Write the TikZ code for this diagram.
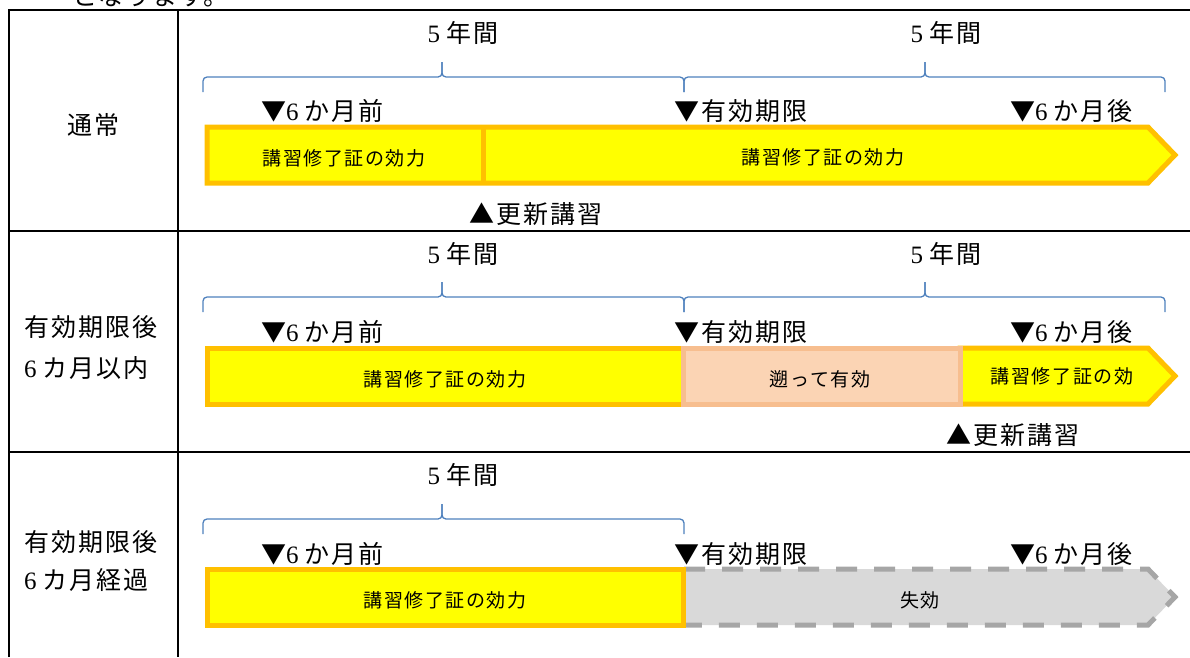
\documentclass[tikz,border=0pt]{standalone}
\usepackage{fontspec}
\setmainfont{Liberation Serif}
\newfontfamily\jp[LetterSpace=8]{Noto Sans CJK JP}
\definecolor{barorange}{HTML}{FFC000}
\definecolor{baryellow}{HTML}{FFFF00}
\definecolor{peachfill}{HTML}{FBD4B4}
\definecolor{peachline}{HTML}{F7BE8F}
\definecolor{greyfill}{HTML}{D9D9D9}
\definecolor{greyline}{HTML}{A6A6A6}
\definecolor{braceblue}{HTML}{4F81BD}
\tikzset{
  lbl/.style={font=\fontsize{25}{29}\selectfont, inner sep=0pt},
  bartxt/.style={font=\jp\fontsize{19}{22}\selectfont, inner sep=0pt},
  gridline/.style={line width=2pt, black},
  bracket/.style={draw=braceblue, line width=1.3pt, rounded corners=4pt},
  ybar/.style={fill=baryellow, draw=barorange, line width=5pt},
  pbar/.style={fill=peachfill, draw=peachline, line width=5pt},
  gbar/.style={fill=greyfill, draw=greyline, line width=5pt, dash pattern=on 21pt off 17pt},
}
\begin{document}
\begin{tikzpicture}[x=1pt,y=-1pt]
\useasboundingbox (0,0) rectangle (1190,657);
\clip (0,0) rectangle (1190,657);
% clipped preceding text line
\node[lbl, anchor=base west] (toptext) at (72,5) {\jp となります。};
% table grid
\draw[gridline] (9,657) -- (9,10) -- (1190,10);
\draw[gridline] (178,10) -- (178,657);
\draw[gridline] (9,231) -- (1190,231);
\draw[gridline] (9,452) -- (1190,452);
% row labels
\node[lbl] (r1lab) at (93,125) {\jp 通常};
\node[lbl, anchor=west] (r2laba) at (24,327) {\jp 有効期限後};
\node[lbl, anchor=west] (r2labb) at (24,368) {6 {\jp カ月以内}};
\node[lbl, anchor=west] (r3laba) at (24,542) {\jp 有効期限後};
\node[lbl, anchor=west] (r3labb) at (24,580) {6 {\jp カ月経過}};
% ===== Row 1 =====
\node[lbl] (r1ya) at (463,33) {5 {\jp 年間}};
\node[lbl] (r1yb) at (946,33) {5 {\jp 年間}};
\draw[bracket] (203,92) -- (203,77) -- (442,77) -- (442,62);
\draw[bracket] (442,62) -- (442,77) -- (684,77) -- (684,92);
\draw[bracket] (684,92) -- (684,77) -- (925,77) -- (925,62);
\draw[bracket] (925,62) -- (925,77) -- (1165,77) -- (1165,92);
\draw[ybar] (207,127) -- (1148,127) -- (1175,155) -- (1148,183) -- (207,183) -- cycle;
\draw[draw=barorange, line width=5pt] (483,127) -- (483,183);
\node[bartxt] (r1ta) at (344,158) {講習修了証の効力};
\node[bartxt] (r1tb) at (823,157) {講習修了証の効力};
\node[lbl, anchor=west] (r1ma) at (261,111) {{\jp ▼}6 {\jp か月前}};
\node[lbl, anchor=west] (r1mb) at (674,111) {\jp ▼有効期限};
\node[lbl, anchor=west] (r1mc) at (1010,111) {{\jp ▼}6 {\jp か月後}};
\node[lbl, anchor=west] (r1up) at (469,214) {\jp ▲更新講習};
% ===== Row 2 =====
\node[lbl] (r2ya) at (463,254) {5 {\jp 年間}};
\node[lbl] (r2yb) at (946,254) {5 {\jp 年間}};
\draw[bracket] (203,312) -- (203,297) -- (442,297) -- (442,282);
\draw[bracket] (442,282) -- (442,297) -- (684,297) -- (684,312);
\draw[bracket] (684,312) -- (684,297) -- (925,297) -- (925,282);
\draw[bracket] (925,282) -- (925,297) -- (1165,297) -- (1165,312);
\draw[ybar] (207,348) rectangle (683,404);
\draw[ybar] (960,348) -- (1148,348) -- (1175,376) -- (1148,404) -- (960,404) -- cycle;
\draw[pbar] (683.5,348) rectangle (960.5,404);
\node[bartxt] (r2ta) at (445,379) {講習修了証の効力};
\node[bartxt] (r2tb) at (820,379) {遡って有効};
\node[bartxt] (r2tc) at (1062,376) {講習修了証の効};
\node[lbl, anchor=west] (r2ma) at (261,332) {{\jp ▼}6 {\jp か月前}};
\node[lbl, anchor=west] (r2mb) at (674,332) {\jp ▼有効期限};
\node[lbl, anchor=west] (r2mc) at (1010,332) {{\jp ▼}6 {\jp か月後}};
\node[lbl, anchor=west] (r2up) at (946,435) {\jp ▲更新講習};
% ===== Row 3 =====
\node[lbl] (r3ya) at (463,475) {5 {\jp 年間}};
\draw[bracket] (203,534) -- (203,519) -- (442,519) -- (442,504);
\draw[bracket] (442,504) -- (442,519) -- (684,519) -- (684,534);
\draw[gbar] (684,569) -- (1148,569) -- (1175,597) -- (1148,625) -- (684,625);
\draw[ybar] (207,569) rectangle (683,625);
\node[bartxt] (r3ta) at (445,600) {講習修了証の効力};
\node[bartxt] (r3tb) at (920,600) {失効};
\node[lbl, anchor=west] (r3ma) at (261,554) {{\jp ▼}6 {\jp か月前}};
\node[lbl, anchor=west] (r3mb) at (674,554) {\jp ▼有効期限};
\node[lbl, anchor=west] (r3mc) at (1010,554) {{\jp ▼}6 {\jp か月後}};
\end{tikzpicture}
\end{document}
